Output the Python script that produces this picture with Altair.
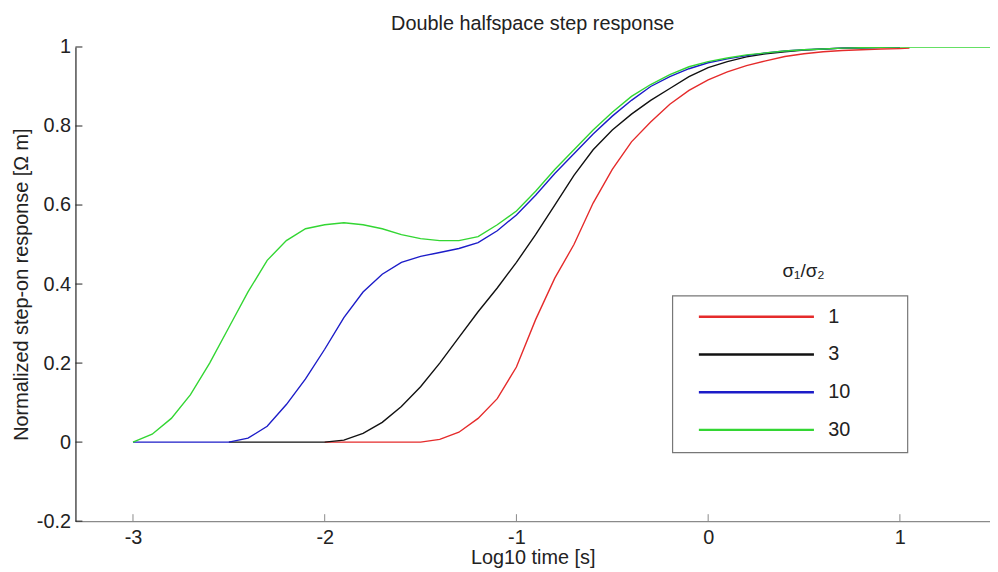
import altair as alt
import pandas as pd

# ---- data ----
ratios = ["1", "3", "10", "30"]
colors = ["#e52b2b", "#111111", "#1c1cc8", "#33d633"]

x_red = [-2.0, -1.9, -1.8, -1.7, -1.6, -1.5, -1.4, -1.3, -1.2, -1.1, -1.0, -0.9, -0.8, -0.7,
         -0.6, -0.5, -0.4, -0.3, -0.2, -0.1, 0.0, 0.1, 0.2, 0.3, 0.4, 0.5, 0.6, 0.7, 0.8, 0.9,
         1.0, 1.05]
y_red = [0.0, 0.0, 0.0, 0.0, 0.0, 0.0, 0.007, 0.025, 0.06, 0.11, 0.19, 0.31, 0.415, 0.50,
         0.605, 0.69, 0.76, 0.81, 0.855, 0.89, 0.917, 0.937, 0.953, 0.965, 0.976, 0.983,
         0.988, 0.991, 0.993, 0.995, 0.996, 0.997]

x_black = [-2.5, -2.4, -2.3, -2.2, -2.1, -2.0, -1.9, -1.8, -1.7, -1.6, -1.5, -1.4, -1.3, -1.2,
           -1.1, -1.0, -0.9, -0.8, -0.7, -0.6, -0.5, -0.4, -0.3, -0.2, -0.1, 0.0, 0.1, 0.2,
           0.3, 0.4, 0.5, 0.6, 0.7, 0.8, 0.9, 1.0]
y_black = [0.0, 0.0, 0.0, 0.0, 0.0, 0.0, 0.005, 0.022, 0.05, 0.09, 0.14, 0.2, 0.265, 0.33,
           0.39, 0.455, 0.525, 0.6, 0.675, 0.74, 0.79, 0.83, 0.865, 0.895, 0.925, 0.948,
           0.963, 0.975, 0.983, 0.988, 0.992, 0.995, 0.997, 0.998, 0.999, 1.0]

x_blue = [-3.0, -2.9, -2.8, -2.7, -2.6, -2.5, -2.4, -2.3, -2.2, -2.1, -2.0, -1.9, -1.8, -1.7,
          -1.6, -1.5, -1.4, -1.3, -1.2, -1.1, -1.0, -0.9, -0.8, -0.7, -0.6, -0.5, -0.4, -0.3,
          -0.2, -0.1, 0.0, 0.1, 0.2, 0.3, 0.4, 0.5, 0.6, 0.7, 0.8, 0.9, 1.0]
y_blue = [0.0, 0.0, 0.0, 0.0, 0.0, 0.0, 0.01, 0.04, 0.095, 0.16, 0.235, 0.315, 0.38, 0.425,
          0.455, 0.47, 0.48, 0.49, 0.505, 0.535, 0.575, 0.625, 0.68, 0.73, 0.78, 0.825,
          0.865, 0.9, 0.925, 0.945, 0.96, 0.97, 0.978, 0.985, 0.99, 0.993, 0.995, 0.997,
          0.998, 0.999, 1.0]

x_green = [-3.0, -2.9, -2.8, -2.7, -2.6, -2.5, -2.4, -2.3, -2.2, -2.1, -2.0, -1.9, -1.8, -1.7,
           -1.6, -1.5, -1.4, -1.3, -1.2, -1.1, -1.0, -0.9, -0.8, -0.7, -0.6, -0.5, -0.4, -0.3,
           -0.2, -0.1, 0.0, 0.1, 0.2, 0.3, 0.4, 0.5, 0.6, 0.7, 0.8, 0.9, 1.0, 1.1, 1.2, 1.3,
           1.4, 1.5]
y_green = [0.0, 0.02, 0.06, 0.12, 0.20, 0.29, 0.38, 0.46, 0.51, 0.54, 0.55, 0.555, 0.55, 0.54,
           0.525, 0.515, 0.51, 0.51, 0.52, 0.55, 0.585, 0.635, 0.69, 0.74, 0.79, 0.835,
           0.875, 0.905, 0.93, 0.95, 0.963, 0.972, 0.98, 0.985, 0.99, 0.993, 0.995, 0.997,
           0.998, 0.999, 1.0, 1.0, 1.0, 1.0, 1.0, 1.0]

x_ticks = [-3, -2, -1, 0, 1]
y_ticks = [-0.2, 0, 0.2, 0.4, 0.6, 0.8, 1]

x_domain = [-3.3, 1.47]
y_domain = [-0.2, 1.0]

# ---- build table ----
rows = []
for name, xs, ys in [("1", x_red, y_red), ("3", x_black, y_black),
                     ("10", x_blue, y_blue), ("30", x_green, y_green)]:
    for i, (xv, yv) in enumerate(zip(xs, ys)):
        rows.append({"t": xv, "r": yv, "ratio": name, "i": i})
df = pd.DataFrame(rows)

W, H = 922, 478
FONT = "Liberation Sans"

xscale = alt.Scale(domain=x_domain, nice=False, zero=False)
yscale = alt.Scale(domain=y_domain, nice=False, zero=False)

xaxis = alt.Axis(values=x_ticks, title="Log10 time [s]", grid=False, ticks=False,
                 domainColor="#8a8a8a", domainWidth=1.2, labelPadding=7,
                 labelFontSize=20, titleFontSize=20, titleFontWeight="normal",
                 titlePadding=0, labelColor="#222", titleColor="#222",
                 labelFont=FONT, titleFont=FONT, labelExpr="'' + datum.value")
yaxis = alt.Axis(values=y_ticks, title="Normalized step-on response [Ω m]",
                 grid=False, ticks=False, domainColor="#222", domainWidth=1.2,
                 labelPadding=5, labelFontSize=20, titleFontSize=20,
                 titleFontWeight="normal", titlePadding=5, labelColor="#222",
                 titleColor="#222", labelFont=FONT, titleFont=FONT,
                 labelExpr="'' + datum.value")

lines = alt.Chart(df).mark_line(strokeWidth=1.4, clip=True).encode(
    x=alt.X("t:Q", scale=xscale, axis=xaxis),
    y=alt.Y("r:Q", scale=yscale, axis=yaxis),
    color=alt.Color("ratio:N", scale=alt.Scale(domain=ratios, range=colors),
                    legend=alt.Legend(orient="none", legendX=627, legendY=253, title=None,
                                      symbolType="stroke", symbolSize=13456,
                                      symbolStrokeWidth=2.5, clipHeight=38, rowPadding=0,
                                      padding=0, labelOffset=13, labelFontSize=20,
                                      labelFont=FONT, labelColor="#222")),
    order=alt.Order("i:Q"),
    detail="ratio:N",
)

tick_x_df = pd.DataFrame({"t": x_ticks})
tick_y_df = pd.DataFrame({"r": y_ticks})

xticks = alt.Chart(tick_x_df).mark_rule(color="#8a8a8a", strokeWidth=1).encode(
    x=alt.X("t:Q", scale=xscale, axis=xaxis), y=alt.value(H), y2=alt.value(H - 7))
yticks = alt.Chart(tick_y_df).mark_rule(color="#222", strokeWidth=1).encode(
    y=alt.Y("r:Q", scale=yscale, axis=yaxis), x=alt.value(0), x2=alt.value(7))

box = alt.Chart(pd.DataFrame({"k": [0]})).mark_rect(
    fill="white", fillOpacity=0, stroke="#777", strokeWidth=1.2).encode(
    x=alt.value(602), x2=alt.value(839), y=alt.value(251), y2=alt.value(409))

leg_title = alt.Chart(pd.DataFrame({"k": [0]})).mark_text(
    text="σ₁/σ₂", font=FONT, fontSize=19, color="#222", align="center",
    baseline="middle").encode(x=alt.value(734), y=alt.value(226))

chart = alt.layer(box, lines, xticks, yticks, leg_title).properties(
    width=W, height=H,
    background="white",
    title=alt.Title("Double halfspace step response", fontSize=20, fontWeight="normal",
                    font=FONT, color="#222", offset=3, anchor="middle"),
    autosize=alt.AutoSizeParams(type="none"),
    padding={"left": 68, "top": 37, "right": 0, "bottom": 52},
).configure_view(strokeWidth=0, stroke="transparent")

chart.save("out.html", embed_options={"renderer": "svg", "actions": False})
